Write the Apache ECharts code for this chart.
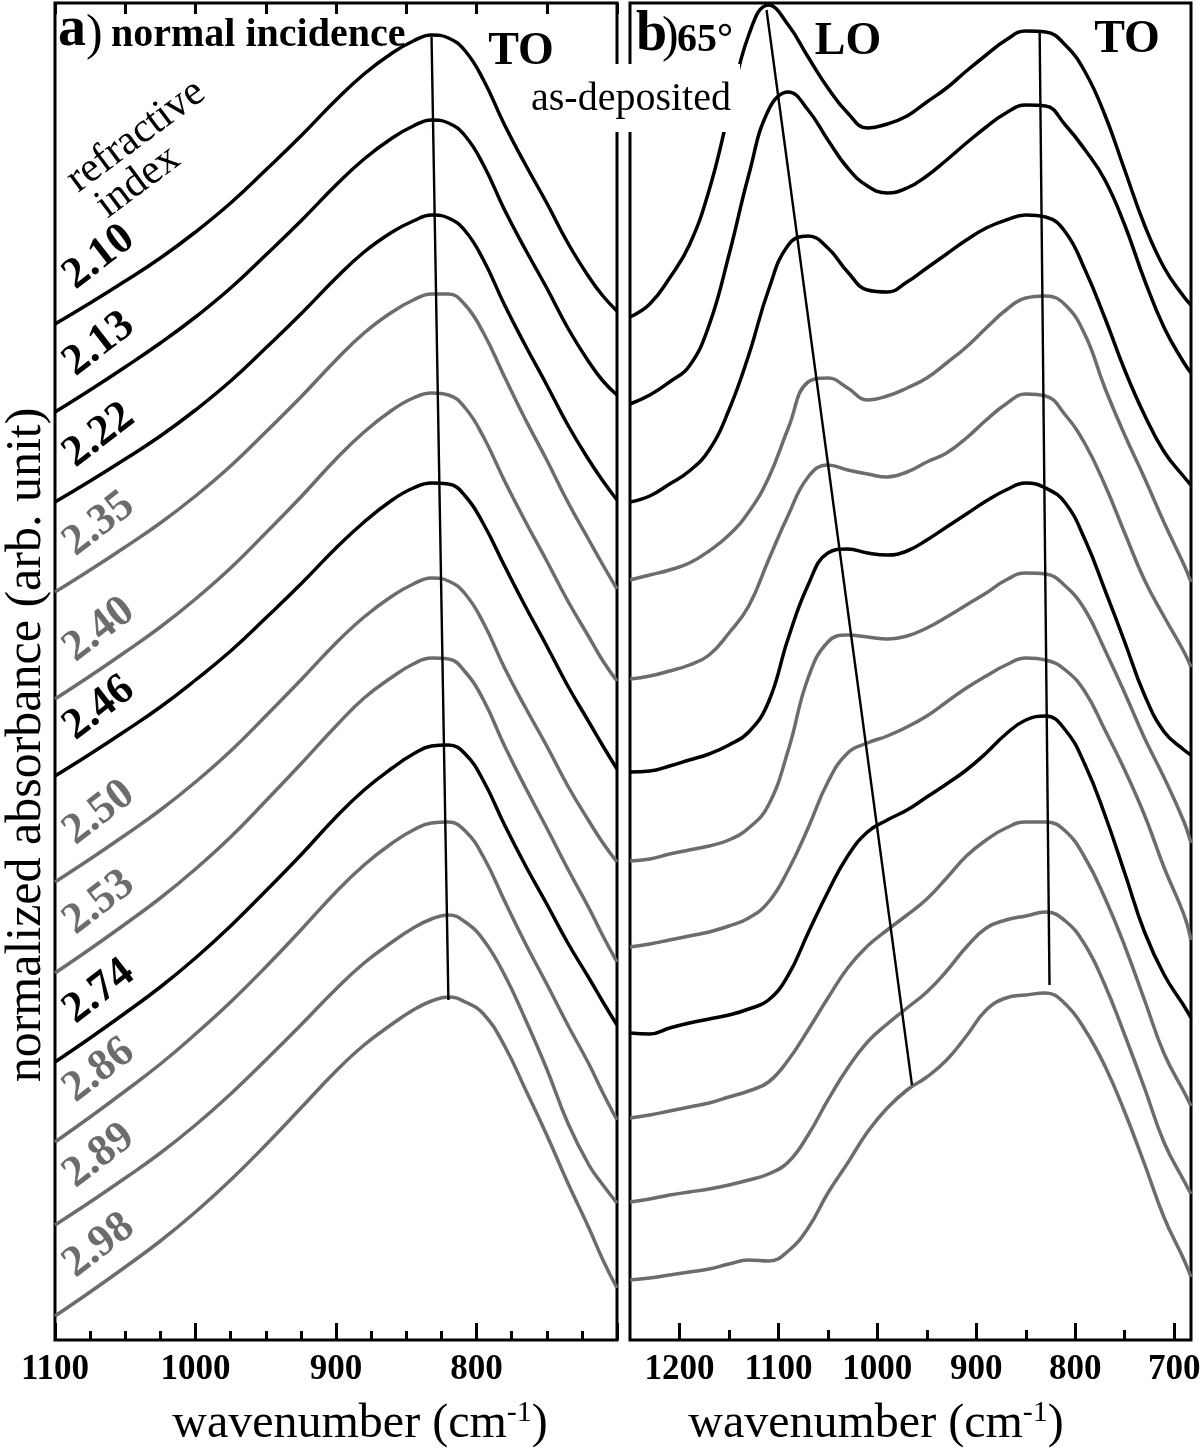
<!DOCTYPE html>
<html><head><meta charset="utf-8">
<script src="https://cdn.jsdelivr.net/npm/echarts@6/dist/echarts.min.js"></script>
<style>html,body{margin:0;padding:0;background:#fff}#c{width:1200px;height:1453px}</style>
</head><body><div id="c"></div>
<script>
// ---------- data ----------
const waveA = [1100,1075,1050,1025,1000,975,950,925,900,880,860,845,832,820,808,795,780,765,750,735,720,710,700];
const absA_210 = [10.16,10.37,10.59,10.82,11.08,11.37,11.70,12.04,12.40,12.66,12.87,12.99,13.05,13.02,12.89,12.60,12.15,11.75,11.37,10.97,10.63,10.44,10.29];
const absA_213 = [9.28,9.50,9.73,9.97,10.23,10.52,10.85,11.19,11.55,11.81,12.02,12.14,12.20,12.17,12.04,11.75,11.30,10.90,10.52,10.12,9.78,9.59,9.45];
const absA_222 = [8.38,8.59,8.81,9.04,9.30,9.59,9.92,10.26,10.62,10.88,11.08,11.19,11.25,11.22,11.09,10.80,10.35,9.94,9.55,9.15,8.80,8.59,8.40];
const absA_235 = [7.48,7.70,7.93,8.17,8.44,8.74,9.08,9.43,9.80,10.07,10.28,10.40,10.46,10.46,10.35,10.07,9.63,9.20,8.80,8.38,8.00,7.75,7.51];
const absA_240 = [6.41,6.64,6.88,7.13,7.41,7.72,8.07,8.43,8.81,9.08,9.30,9.42,9.47,9.45,9.32,9.03,8.59,8.18,7.79,7.39,7.03,6.79,6.59];
const absA_246 = [5.64,5.86,6.09,6.33,6.60,6.89,7.22,7.56,7.92,8.18,8.40,8.52,8.57,8.56,8.44,8.16,7.74,7.33,6.94,6.54,6.18,5.94,5.71];
const absA_250 = [4.58,4.81,5.05,5.30,5.58,5.89,6.24,6.60,6.97,7.23,7.44,7.56,7.62,7.59,7.46,7.17,6.72,6.32,5.94,5.54,5.19,4.97,4.78];
const absA_253 = [3.67,3.91,4.16,4.42,4.71,5.03,5.39,5.76,6.14,6.42,6.63,6.76,6.82,6.81,6.68,6.40,5.94,5.52,5.12,4.71,4.32,4.04,3.78];
const absA_274 = [2.78,3.02,3.27,3.53,3.82,4.14,4.49,4.85,5.23,5.50,5.72,5.86,5.94,5.95,5.86,5.59,5.15,4.74,4.36,3.97,3.62,3.38,3.15];
const absA_286 = [1.98,2.23,2.49,2.76,3.06,3.38,3.73,4.10,4.48,4.75,4.97,5.10,5.17,5.18,5.09,4.83,4.39,3.96,3.56,3.15,2.76,2.47,2.20];
const absA_289 = [1.15,1.38,1.62,1.87,2.15,2.46,2.80,3.15,3.51,3.77,3.98,4.12,4.21,4.25,4.18,4.00,3.65,3.20,2.71,2.17,1.75,1.55,1.37];
const absA_298 = [0.24,0.48,0.73,0.99,1.28,1.60,1.95,2.32,2.69,2.95,3.16,3.30,3.39,3.43,3.38,3.26,2.94,2.50,2.05,1.57,1.12,0.80,0.52];
const indexLabels = ['2.10','2.13','2.22','2.35','2.40','2.46','2.50','2.53','2.74','2.86','2.89','2.98'];

const waveB = [1250,1230,1210,1190,1170,1150,1130,1110,1090,1070,1050,1030,1010,990,970,950,930,910,890,870,850,830,810,790,770,750,730,710,690,683];
const absB_01 = [10.23,10.36,10.62,10.95,11.50,12.28,13.05,13.35,13.15,12.83,12.52,12.27,12.12,12.16,12.24,12.38,12.52,12.69,12.85,13.00,13.09,13.08,12.95,12.68,12.25,11.70,11.15,10.72,10.43,10.35];
const absB_02 = [9.36,9.45,9.58,9.74,10.15,10.85,11.65,12.30,12.48,12.30,12.00,11.72,11.54,11.47,11.52,11.64,11.80,11.97,12.13,12.27,12.35,12.34,12.15,11.90,11.60,11.15,10.60,10.12,9.77,9.67];
const absB_03 = [8.38,8.44,8.56,8.69,8.90,9.30,9.85,10.50,10.95,11.04,10.92,10.68,10.50,10.48,10.58,10.72,10.86,11.00,11.12,11.20,11.25,11.23,11.08,10.70,10.22,9.70,9.25,8.88,8.63,8.55];
const absB_04 = [7.60,7.65,7.70,7.77,7.89,8.05,8.28,8.62,9.12,9.58,9.62,9.52,9.40,9.44,9.52,9.62,9.77,9.93,10.12,10.30,10.42,10.44,10.35,10.05,9.52,9.05,8.62,8.17,7.75,7.58];
const absB_05 = [6.61,6.64,6.69,6.75,6.85,7.07,7.34,7.80,8.25,8.63,8.75,8.70,8.66,8.63,8.68,8.78,8.87,9.02,9.20,9.36,9.46,9.44,9.25,8.96,8.55,8.07,7.60,7.23,6.88,6.73];
const absB_06 = [5.68,5.69,5.74,5.80,5.86,5.95,6.08,6.38,7.02,7.55,7.87,7.91,7.87,7.85,7.89,8.00,8.13,8.26,8.39,8.50,8.57,8.52,8.37,8.00,7.50,6.98,6.45,6.08,5.90,5.85];
const absB_07 = [4.79,4.81,4.86,4.90,4.94,5.00,5.12,5.35,5.90,6.62,6.98,7.05,7.03,7.01,7.04,7.12,7.23,7.35,7.47,7.60,7.67,7.66,7.54,7.30,6.90,6.47,6.02,5.62,5.18,4.97];
const absB_08 = [3.93,3.96,4.00,4.04,4.08,4.14,4.22,4.38,4.70,5.12,5.58,5.87,5.97,6.04,6.13,6.24,6.38,6.52,6.64,6.75,6.82,6.80,6.70,6.48,6.10,5.70,5.25,4.72,4.25,4.00];
const absB_09 = [3.07,3.06,3.12,3.17,3.21,3.25,3.31,3.40,3.65,4.07,4.48,4.84,5.08,5.20,5.30,5.43,5.56,5.70,5.87,6.06,6.20,6.24,6.10,5.75,5.25,4.67,4.08,3.65,3.34,3.22];
const absB_10 = [2.22,2.25,2.29,2.33,2.37,2.43,2.49,2.58,2.80,3.10,3.42,3.72,3.94,4.10,4.25,4.41,4.62,4.84,5.00,5.12,5.18,5.18,5.09,4.82,4.42,3.94,3.40,2.86,2.48,2.34];
const absB_11 = [1.38,1.41,1.45,1.48,1.51,1.55,1.60,1.66,1.78,2.05,2.40,2.72,2.98,3.16,3.32,3.48,3.69,3.93,4.12,4.20,4.24,4.28,4.19,3.95,3.55,3.05,2.52,1.97,1.59,1.46];
const absB_12 = [0.60,0.62,0.65,0.68,0.71,0.76,0.80,0.79,0.89,1.12,1.47,1.77,2.08,2.32,2.50,2.63,2.80,3.04,3.30,3.42,3.45,3.47,3.36,3.10,2.74,2.28,1.76,1.22,0.80,0.63];

// peak-tracking guide lines [wavenumber, absorbance]
const toLineA = [[832,13.03],[820,3.40]];
const loLineB = [[1112,13.30],[965,2.55]];
const toLineB = [[836,13.10],[826,3.55]];

// tick values
const ticksB = [700,800,900,1000,1100,1200];
const minorTicksB = [750,850,950,1050,1150];

// ---------- chart ----------
const curvesA = [absA_210,absA_213,absA_222,absA_235,absA_240,absA_246,absA_250,absA_253,absA_274,absA_286,absA_289,absA_298];
const curvesB = [absB_01,absB_02,absB_03,absB_04,absB_05,absB_06,absB_07,absB_08,absB_09,absB_10,absB_11,absB_12];
const BLACK = '#000000', GRAY = '#6c6c6c';
const shade = [BLACK,BLACK,BLACK,GRAY,GRAY,BLACK,GRAY,GRAY,BLACK,GRAY,GRAY,GRAY];
const SERIF = "'Liberation Serif','DejaVu Serif',serif";
const YMAX = 13.37;

const chart = echarts.init(document.getElementById('c'), null, {renderer:'canvas'});

function spectrum(xs, ys, idx, color){
  return {type:'line', xAxisIndex: idx, yAxisIndex: idx === 0 ? 0 : 1,
    data: xs.map((x,i)=>[x, ys[i]]), showSymbol:false, smooth:0.45, silent:true,
    lineStyle:{color:color, width:3.5}, z:3};
}
function guide(pts, idx){
  return {type:'line', xAxisIndex: idx, yAxisIndex: idx === 0 ? 0 : 1, data: pts,
    showSymbol:false, silent:true, lineStyle:{color:'#000', width:2.4}, z:4};
}
const series = [];
curvesA.forEach((c,i)=>series.push(spectrum(waveA, c, 0, shade[i])));
curvesB.forEach((c,i)=>series.push(spectrum(waveB, c, 2, shade[i])));
series.push(guide(toLineA, 0));
series.push(guide(loLineB, 2));
series.push(guide(toLineB, 2));

const tickLabel = {color:'#000', fontFamily:SERIF, fontWeight:'bold', fontSize:35, margin:12,
  formatter: v => String(Math.round(v))};
const option = {
  animation:false,
  backgroundColor:'#fff',
  grid:[
    {left:55, top:3, width:562, height:1337, show:true, borderColor:'#000', borderWidth:3,
     backgroundColor:'transparent', containLabel:false, outerBoundsMode:'none'},
    {left:630, top:3, width:561, height:1337, show:true, borderColor:'#000', borderWidth:3,
     backgroundColor:'transparent', containLabel:false, outerBoundsMode:'none'}
  ],
  xAxis:[
    {gridIndex:0, type:'value', min:700, max:1100, interval:100, inverse:true, position:'bottom',
     axisLine:{show:false}, splitLine:{show:false},
     axisTick:{inside:true, length:17, lineStyle:{color:'#000', width:3}},
     minorTick:{show:true, splitNumber:4, length:9, lineStyle:{color:'#000', width:3}},
     axisLabel:Object.assign({showMinLabel:false}, tickLabel)},
    {gridIndex:0, type:'value', min:700, max:1100, interval:50, inverse:true, position:'top',
     axisLine:{show:false}, splitLine:{show:false}, axisLabel:{show:false},
     axisTick:{inside:true, length:11, lineStyle:{color:'#000', width:3}}},
    {gridIndex:1, type:'value', min:683, max:1250, inverse:true, position:'bottom',
     axisLine:{show:false}, splitLine:{show:false},
     axisTick:{inside:true, length:17, customValues:ticksB, lineStyle:{color:'#000', width:3}},
     axisLabel:Object.assign({customValues:ticksB}, tickLabel)},
    {gridIndex:1, type:'value', min:683, max:1250, inverse:true, position:'bottom',
     axisLine:{show:false}, splitLine:{show:false}, axisLabel:{show:false},
     axisTick:{inside:true, length:10, customValues:minorTicksB, lineStyle:{color:'#000', width:3}}}
  ],
  yAxis:[
    {gridIndex:0, type:'value', min:0, max:YMAX, show:false},
    {gridIndex:1, type:'value', min:0, max:YMAX, show:false}
  ],
  series: series
};
chart.setOption(option);

// ---------- texts ----------
function txt(x, y, text, size, opts){
  opts = opts || {};
  return {type:'text', x:x, y:y, rotation: opts.rot || 0, z:100,
    style:{text:text, fill: opts.color || '#000', font: (opts.weight||'normal') + ' ' + size + 'px ' + SERIF,
      align: opts.align || 'center', verticalAlign: opts.valign || 'middle', rich: opts.rich}};
}
const g = [];
g.push({type:'rect', shape:{x:524, y:64, width:216, height:68}, style:{fill:'#fff'}, z:90});
g.push(txt(631, 99, 'as-deposited', 40));
g.push(txt(58, 31, 'a', 56, {weight:'bold', align:'left'}));
g.push(txt(86, 36, ')', 50, {align:'left'}));
g.push(txt(111, 36, 'normal incidence', 40, {weight:'bold', align:'left'}));
g.push(txt(521, 52, 'TO', 46, {weight:'bold'}));
g.push(txt(636, 36, 'b', 56, {weight:'bold', align:'left'}));
g.push(txt(662, 38, ')', 50, {align:'left'}));
g.push(txt(677, 41, '65°', 40, {weight:'bold', align:'left'}));
g.push(txt(848, 42, 'LO', 46, {weight:'bold'}));
g.push(txt(1127, 40, 'TO', 46, {weight:'bold'}));
g.push(txt(136, 136, 'refractive', 42, {rot:0.64}));
g.push(txt(138, 182, 'index', 42, {rot:0.64}));
const nameRich = {a:{font:'48px '+SERIF, fill:'#000'}, s:{font:'30px '+SERIF, fill:'#000', verticalAlign:'top', padding:[0,0,22,0]}};
g.push(txt(360, 1424, '{a|wavenumber (cm}{s|-1}{a|)}', 48, {rich:nameRich}));
g.push(txt(876, 1424, '{a|wavenumber (cm}{s|-1}{a|)}', 48, {rich:nameRich}));
g.push(txt(27, 745, 'normalized absorbance (arb. unit)', 50, {rot:Math.PI/2}));
curvesA.forEach((c,i)=>{
  const p1 = chart.convertToPixel({gridIndex:0}, [waveA[1], c[1]]);
  const p2 = chart.convertToPixel({gridIndex:0}, [waveA[2], c[2]]);
  const t = 0.25;
  const px = p1[0] + (p2[0]-p1[0])*t, py = p1[1] + (p2[1]-p1[1])*t;
  g.push(txt(px, py - 40, indexLabels[i], 44, {weight:'bold', rot:0.66, color:shade[i]}));
});
chart.setOption({graphic: g});
</script></body></html>
